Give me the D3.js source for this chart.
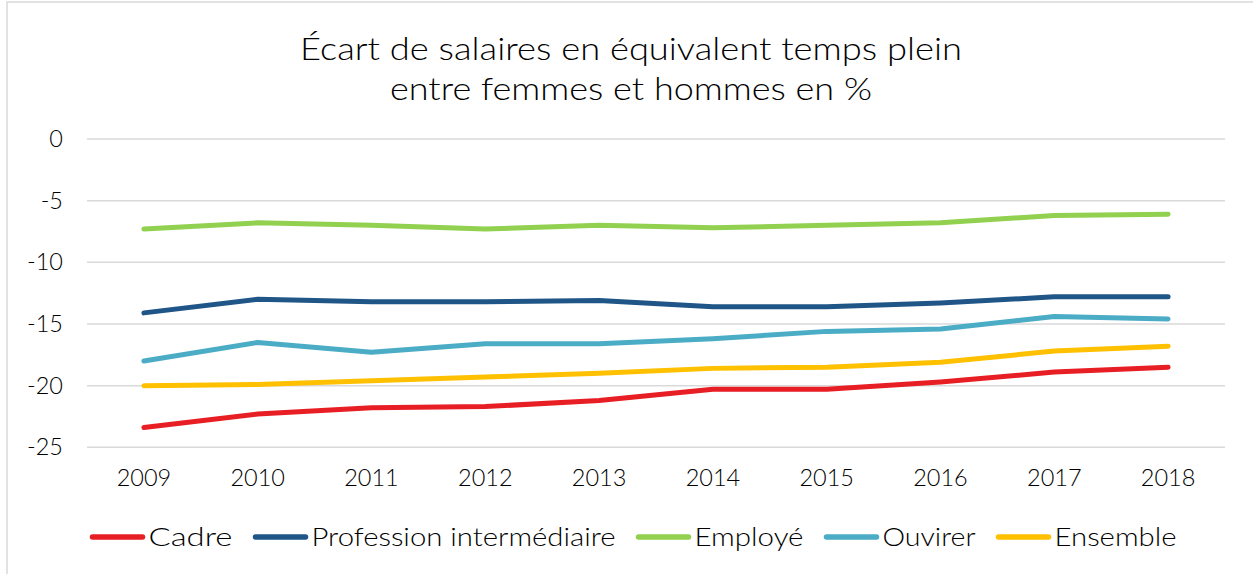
<!DOCTYPE html>
<html>
<head>
<meta charset="utf-8">
<script src="https://cdn.jsdelivr.net/npm/d3@7"></script>
<style>
  body { margin: 0; background: #fff; }
  text { font-family: "Lato", "DejaVu Sans", sans-serif; font-weight: 300; fill: #000; }
</style>
</head>
<body>
<div id="chart"></div>
<script>
// data
var years = ["2009", "2010", "2011", "2012", "2013", "2014", "2015", "2016", "2017", "2018"];
var cadre = [-23.4, -22.3, -21.8, -21.7, -21.2, -20.3, -20.3, -19.7, -18.9, -18.5];
var profInter = [-14.1, -13.0, -13.2, -13.2, -13.1, -13.6, -13.6, -13.3, -12.8, -12.8];
var employe = [-7.3, -6.8, -7.0, -7.3, -7.0, -7.2, -7.0, -6.8, -6.2, -6.1];
var ouvrier = [-18.0, -16.5, -17.3, -16.6, -16.6, -16.2, -15.6, -15.4, -14.4, -14.6];
var ensemble = [-20.0, -19.9, -19.6, -19.3, -19.0, -18.6, -18.5, -18.1, -17.2, -16.8];
var yTicks = [0, -5, -10, -15, -20, -25];

var seriesNames = ["Cadre", "Profession intermédiaire", "Employé", "Ouvirer", "Ensemble"];
var seriesValues = [cadre, profInter, employe, ouvrier, ensemble];
var seriesColors = ["#E81E25", "#1F5587", "#92D050", "#4BACC6", "#FFC000"];
// widths of the legend labels as measured on the picture (Century Gothic is wider than Lato)
var legendWidths = [84, 304, 109, 93, 122];

var width = 1253, height = 574;

var svg = d3.select("#chart")
    .append("svg")
    .attr("width", width)
    .attr("height", height);

// chart frame
svg.append("rect")
    .attr("x", 7).attr("y", 2)
    .attr("width", 1260).attr("height", 600)
    .attr("fill", "none")
    .attr("stroke", "#d9d9d9")
    .attr("stroke-width", 1.5);

// title
var title = svg.append("text")
    .attr("text-anchor", "middle")
    .style("font-size", "32px");
title.append("tspan").attr("x", 631).attr("y", 60)
    .attr("textLength", 662).attr("lengthAdjust", "spacingAndGlyphs")
    .text("Écart de salaires en équivalent temps plein");
title.append("tspan").attr("x", 631).attr("y", 100)
    .attr("textLength", 482).attr("lengthAdjust", "spacingAndGlyphs")
    .text("entre femmes et hommes en %");

// scales
var x = d3.scaleBand().domain(years).range([87, 1225]).padding(0);
var y = d3.scaleLinear().domain([-25, 0]).range([447.3, 139]);

// gridlines
svg.append("g")
    .selectAll("line")
    .data(yTicks)
    .enter()
    .append("line")
    .attr("x1", 87).attr("x2", 1225)
    .attr("y1", function(d) { return y(d); })
    .attr("y2", function(d) { return y(d); })
    .attr("stroke", "#d9d9d9")
    .attr("stroke-width", 1.5);

// y axis labels
var yAxis = svg.append("g")
    .attr("transform", "translate(63,0)")
    .call(d3.axisLeft(y).tickValues(yTicks).tickSize(0).tickPadding(0)
        .tickFormat(function(d) { return d3.format("d")(d).replace("−", "-"); }));
yAxis.select(".domain").remove();
yAxis.selectAll("text")
    .style("font-size", "23.5px")
    .style("font-family", "Lato, sans-serif")
    .style("font-weight", 300)
    .attr("fill", "#000");

// x axis labels
var xAxis = svg.append("g")
    .attr("transform", "translate(0,469)")
    .call(d3.axisBottom(x).tickSize(0).tickPadding(0));
xAxis.select(".domain").remove();
xAxis.selectAll("text")
    .style("font-size", "23.5px")
    .style("font-family", "Lato, sans-serif")
    .style("font-weight", 300)
    .attr("fill", "#000");

// lines
var line = d3.line()
    .x(function(d, i) { return x(years[i]) + x.bandwidth() / 2; })
    .y(function(d) { return y(d); });

svg.append("g")
    .selectAll("path")
    .data(seriesValues)
    .enter()
    .append("path")
    .attr("d", line)
    .attr("fill", "none")
    .attr("stroke", function(d, i) { return seriesColors[i]; })
    .attr("stroke-width", 5)
    .attr("stroke-linecap", "round")
    .attr("stroke-linejoin", "round");

// legend
var legend = svg.append("g");
var items = legend.selectAll("g")
    .data(seriesNames)
    .enter()
    .append("g");
items.append("line")
    .attr("x1", 2).attr("x2", 52)
    .attr("y1", 0).attr("y2", 0)
    .attr("stroke", function(d, i) { return seriesColors[i]; })
    .attr("stroke-width", 5.5)
    .attr("stroke-linecap", "round");
items.append("text")
    .attr("x", 58)
    .attr("y", 9)
    .attr("textLength", function(d, i) { return legendWidths[i]; })
    .attr("lengthAdjust", "spacingAndGlyphs")
    .style("font-size", "25px")
    .text(function(d) { return d; });

var pos = 0, offsets = [];
legendWidths.forEach(function(w) {
    offsets.push(pos);
    pos += 58 + w + 21;
});
var total = pos - 21;
var startX = 633.5 - total / 2;
items.attr("transform", function(d, i) { return "translate(" + (startX + offsets[i]) + ",537)"; });
</script>
</body>
</html>
